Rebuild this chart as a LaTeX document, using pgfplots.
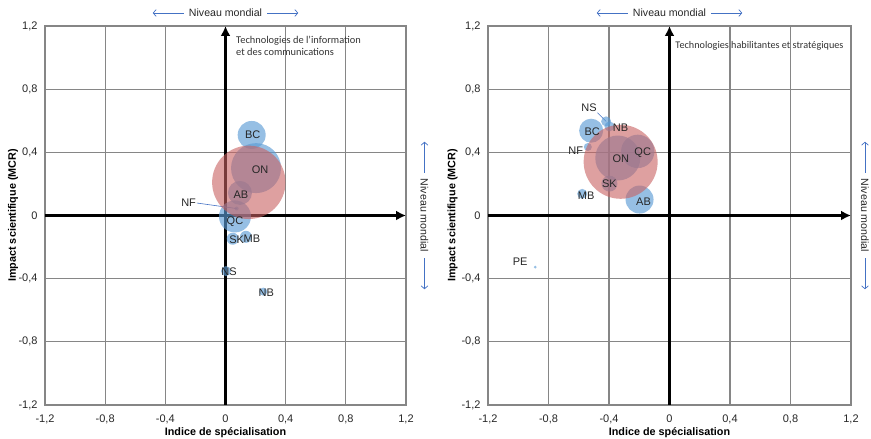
\documentclass[border=0pt]{standalone}
\usepackage{pgfplots}
\pgfplotsset{compat=1.18}
\usepackage{pgfplotstable}
\usepackage{fontspec}
\setmainfont{Liberation Sans}
\newfontfamily\calibri{Carlito}
\usetikzlibrary{arrows.meta}
\definecolor{bblue}{RGB}{91,155,213}
\definecolor{bred}{RGB}{200,97,97}
\definecolor{gridgray}{RGB}{134,134,134}
\definecolor{arrblue}{RGB}{68,114,196}

\pgfplotstableread{
x y r lab dx dy
0.203 0.300 25 ON 4 -2
0.063 -0.006 16 QC 0 -5
0.174 0.510 14 BC 1 0
0.096 0.143 12 AB 1 -2
0.048 -0.147 6 SK 4 -1
0.136 -0.135 6 MB 6 -2
0.003 -0.352 5 NS 3 -1
0.251 -0.482 4 NB 3 -1
0.074 0.044 2 NF -48 6
}\tic
\pgfplotstableread{
x y r
0.155 0.210 36.7
}\ticca

\pgfplotstableread{
x y r lab dx dy
-0.342 0.364 22.5 ON 3 -1
-0.210 0.406 16.7 QC 5 -1
-0.198 0.101 14 AB 4 -2
-0.518 0.537 12 BC 1 -1
-0.397 0.202 8 SK 0 0
-0.419 0.596 5 NS -17 14
-0.397 0.564 5 NB 11 -1
-0.577 0.137 5 MB 4 -2
-0.540 0.434 4 NF -12 -4
-0.888 -0.327 1.5 PE -15 5
}\ths
\pgfplotstableread{
x y r
-0.323 0.340 37
}\thsca

\pgfplotsset{
  quad/.style={
    scale only axis, height=379pt,
    xmin=-1.2,xmax=1.2,ymin=-1.2,ymax=1.2,
    clip=false,
    xtick={-1.2,-0.8,-0.4,0,0.4,0.8,1.2},
    ytick={-1.2,-0.8,-0.4,0,0.4,0.8,1.2},
    xticklabels={{-1,2},{-0,8},{-0,4},0,{0,4},{0,8},{1,2}},
    yticklabels={{-1,2},{-0,8},{-0,4},0,{0,4},{0,8},{1,2}},
    major tick length=0pt,
    grid=major,
    major grid style={gridgray, line width=1.3pt},
    axis line style={gridgray, line width=1.5pt},
    tick label style={font=\fontsize{11}{13}\selectfont, text=black!85},
    xticklabel style={anchor=center, yshift=-14pt},
    yticklabel style={anchor=east, xshift=-4pt},
    xlabel={\bfseries Indice de spécialisation},
    ylabel={\bfseries Impact scientifique (MCR)},
    every axis x label/.style={at={(axis description cs:0.5,0)}, yshift=-28pt, anchor=center, font=\fontsize{10.8}{13}\selectfont},
  },
  bub/.style n args={2}{scatter, only marks, mark=*,
    mark options={draw opacity=0},
    scatter/use mapped color={draw opacity=0, fill=#1, fill opacity=#2},
    visualization depends on={\thisrow{r} \as \rad},
    scatter/@pre marker code/.append style={/tikz/mark size=\rad}},
  labs/.style={draw=none, mark=none, point meta=explicit symbolic,
    nodes near coords,
    visualization depends on={\thisrow{dx} \as \ldx},
    visualization depends on={\thisrow{dy} \as \ldy},
    every node near coord/.append style={anchor=center, xshift=\ldx pt, yshift=\ldy pt,
      font=\fontsize{11}{13}\selectfont, text=black!85, inner sep=0pt}},
  cax/.style={black, line width=3pt, -{Latex[length=10pt,width=10pt]}},
}
\tikzset{arr/.style={arrblue, line width=0.7pt, -{Straight Barb[length=3pt,width=7pt]}},
  nm/.style={font=\fontsize{10.6}{13}\selectfont, text=black!85, inner sep=0pt}}

\begin{document}
\begin{tikzpicture}
\useasboundingbox (0,0) rectangle (871pt,439pt);
% ---------- left
\begin{axis}[quad, width=361pt, at={(45pt,34pt)}, anchor=south west,
  every axis y label/.style={at={(axis description cs:0,0.5)}, xshift=-32pt, rotate=90, anchor=center, font=\fontsize{10.8}{13}\selectfont}]
\addplot[cax] coordinates {(-1.2,0) (1.2,0)};
\addplot[cax] coordinates {(0,-1.2) (0,1.2)};
\addplot[bub={bblue}{0.64}] table[x=x,y=y] {\tic};
\addplot[bub={bred}{0.6}] table[x=x,y=y] {\ticca};
\addplot[arrblue, line width=0.6pt] coordinates {(-0.19,0.079) (0.074,0.044)};
\addplot[labs] table[x=x,y=y,meta=lab] {\tic};
\node[nm] (t1) at ([yshift=13pt]axis cs:0,1.2) {Niveau mondial};
\node[nm, rotate=-90] (r1) at ([xshift=18.5pt]axis cs:1.2,0) {Niveau mondial};
\node[anchor=north west, inner sep=0pt, align=left, font=\calibri\fontsize{10.4}{12.3}\selectfont, text=black!80]
  at (axis cs:0.07,1.14) {Technologies de l’information\\et des communications};
\end{axis}
% ---------- right
\begin{axis}[quad, width=363pt, at={(488pt,34pt)}, anchor=south west,
  every axis y label/.style={at={(axis description cs:0,0.5)}, xshift=-35.5pt, rotate=90, anchor=center, font=\fontsize{10.8}{13}\selectfont}]
\addplot[cax] coordinates {(-1.2,0) (1.2,0)};
\addplot[cax] coordinates {(0,-1.2) (0,1.2)};
\addplot[bub={bblue}{0.64}] table[x=x,y=y] {\ths};
\addplot[bub={bred}{0.6}] table[x=x,y=y] {\thsca};
\addplot[arrblue, line width=0.6pt] coordinates {(-0.476,0.651) (-0.419,0.596)};
\addplot[labs] table[x=x,y=y,meta=lab] {\ths};
\node[nm] (t2) at ([yshift=13pt]axis cs:0,1.2) {Niveau mondial};
\node[nm, rotate=-90] (r2) at ([xshift=14pt]axis cs:1.2,0) {Niveau mondial};
\node[anchor=north west, inner sep=0pt, align=left, font=\calibri\fontsize{10.2}{12}\selectfont, text=black!80]
  at (axis cs:0.038,1.105) {Technologies habilitantes et stratégiques};
\end{axis}
% ---------- blue arrows around "Niveau mondial"
\draw[arr] ([xshift=-5pt]t1.west) -- ++(-31pt,0pt);
\draw[arr] ([xshift=5pt]t1.east) -- ++(31pt,0pt);
\draw[arr] ([yshift=6pt]r1.west) -- ++(0pt,31pt);
\draw[arr] ([yshift=-6pt]r1.east) -- ++(0pt,-31pt);
\draw[arr] ([xshift=-5pt]t2.west) -- ++(-31pt,0pt);
\draw[arr] ([xshift=5pt]t2.east) -- ++(31pt,0pt);
\draw[arr] ([yshift=6pt]r2.west) -- ++(0pt,31pt);
\draw[arr] ([yshift=-6pt]r2.east) -- ++(0pt,-31pt);
\end{tikzpicture}
\end{document}
